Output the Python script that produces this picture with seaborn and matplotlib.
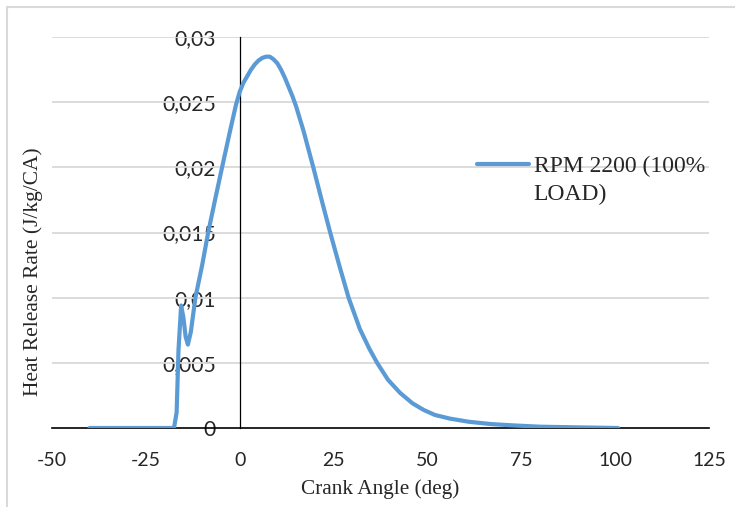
import matplotlib
matplotlib.use("Agg")
import matplotlib.pyplot as plt
import seaborn as sns
import pandas as pd
from matplotlib.lines import Line2D

# crank angle (deg) and heat release rate
crank_angle = [-40, -30, -20, -17.5, -16.8, -16.3, -15.6, -15.0, -14.4, -13.8,
               -13.0, -11.8, -10.0, -8.4, -6.5, -4.7, -2.8, -1.0, 0.0, 1.0,
               2.0, 3.0, 4.0, 5.0, 6.0, 7.0, 8.0, 9.0, 10.0, 11.0,
               12.0, 13.0, 14.0, 15.0, 17.0, 19.6, 22.0, 24.1, 26.5, 29.0,
               32.0, 34.5, 36.6, 39.5, 42.7, 46.0, 48.9, 52.0, 56.0, 61.0,
               67.0, 73.0, 80.0, 90.0, 100.8]
heat_release = [0, 0, 0, 0, 0.0012, 0.0060, 0.0094, 0.0085, 0.0070, 0.0064,
                0.0074, 0.0100, 0.0125, 0.0150, 0.0176, 0.0200, 0.0225, 0.0248, 0.0258, 0.0265,
                0.0270, 0.0275, 0.0279, 0.0282, 0.0284, 0.0285, 0.0285, 0.0283, 0.0280, 0.0275,
                0.0269, 0.0262, 0.0255, 0.0247, 0.0228, 0.0200, 0.0173, 0.0150, 0.0125, 0.0100,
                0.0076, 0.0061, 0.0050, 0.0037, 0.0027, 0.0019, 0.0014, 0.0010, 0.00072, 0.00048,
                0.0003, 0.0002, 0.0001, 0.00005, 0.0]
series_name = "RPM 2200 (100%\nLOAD)"

x_ticks = [-50, -25, 0, 25, 50, 75, 100, 125]
y_ticks = [0, 0.005, 0.01, 0.015, 0.02, 0.025, 0.03]
y_tick_labels = ["0", "0,005", "0,01", "0,015", "0,02", "0,025", "0,03"]

df = pd.DataFrame({"angle": crank_angle, "hrr": heat_release})

sns.set_theme(style="white")
plt.rcParams["font.family"] = ["Liberation Serif", "DejaVu Sans"]
plt.rcParams["axes.unicode_minus"] = False

fig = plt.figure(figsize=(7.35, 5.07), dpi=100)
ax = fig.add_axes([0.0707, 0.1558, 0.894, 0.771])

blue = "#5B9BD5"
sns.lineplot(data=df, x="angle", y="hrr", ax=ax, color=blue, linewidth=3,
             legend=False, zorder=3)

ax.set_xlim(-50, 125)
ax.set_ylim(0, 0.03)
ax.set_xticks(x_ticks)
ax.set_yticks(y_ticks)
ax.set_yticklabels(y_tick_labels)

for y in y_ticks[1:]:
    ax.axhline(y, color="#d9d9d9", linewidth=1.3, zorder=1)

# axes cross at zero like the original spreadsheet chart
ax.spines["left"].set_position(("data", 0))
ax.spines["left"].set_color("black")
ax.spines["left"].set_linewidth(0.9)
ax.spines["bottom"].set_color("black")
ax.spines["bottom"].set_linewidth(1.2)
ax.spines["top"].set_visible(False)
ax.spines["right"].set_visible(False)

ax.tick_params(axis="y", length=0, pad=17)
ax.tick_params(axis="x", length=0, pad=17)
for lab in ax.get_yticklabels():
    lab.set_fontfamily(["Lato", "DejaVu Sans"])
    lab.set_fontsize(15.2)
for lab in ax.get_xticklabels():
    lab.set_fontfamily(["Lato", "DejaVu Sans"])
    lab.set_fontsize(14)

ax.set_xlabel("Crank Angle (deg)", fontsize=15.3, labelpad=8)
ax.set_ylabel("")
fig.text(0.045, 0.4635, "Heat Release Rate (J/kg/CA)", rotation=90,
         ha="center", va="center", fontsize=15.4)

handle = Line2D([], [], color=blue, linewidth=3)
leg = ax.legend([handle], [series_name], loc="upper left", frameon=False,
                bbox_to_anchor=(477 / 735, 1 - 152 / 507), bbox_transform=fig.transFigure,
                fontsize=17, handlelength=2.2, handleheight=3.5, handletextpad=0.2,
                borderpad=0, borderaxespad=0)
for t in leg.get_texts():
    t.set_linespacing(1.45)
# line up the legend swatch with the first text line
leg_line = leg.legend_handles[0]
leg_line.set_ydata(leg_line.get_ydata() + 4.3)

# light grey frame from the source document
fig.add_artist(Line2D([7 / 735, 1], [1 - 7 / 507, 1 - 7 / 507], color="#d9d9d9",
                      linewidth=1.5, transform=fig.transFigure))
fig.add_artist(Line2D([7 / 735, 7 / 735], [0, 1 - 7 / 507], color="#d9d9d9",
                      linewidth=1.5, transform=fig.transFigure))

fig.savefig("out.png", dpi=100)
